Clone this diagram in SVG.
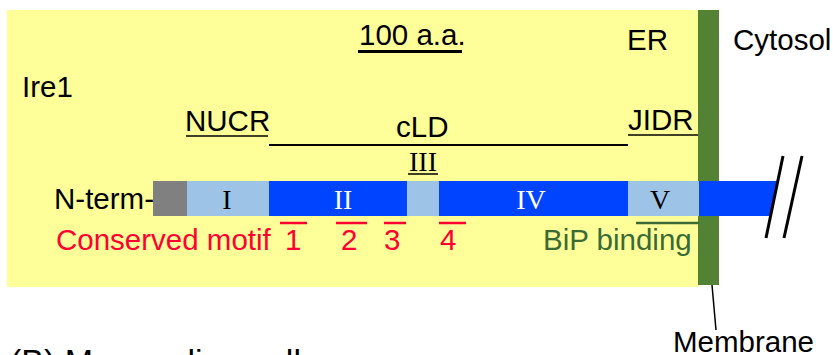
<svg xmlns="http://www.w3.org/2000/svg" width="833" height="355" viewBox="0 0 833 355">
<style>
  .t { font-family: "Liberation Sans", Arial, sans-serif; font-size: 29.5px; fill: #000; }
  .r { font-family: "Liberation Serif", "Times New Roman", serif; font-size: 28px; text-anchor: middle; }
  .red { fill: #FF0033; }
  .grn { fill: #3B6B35; }
  .lb { fill: #9DC3E6; }
  .db { fill: #0044FF; }
</style>
<rect width="833" height="355" fill="#FFFFFF"/>
<g id="er-lumen">
  <rect x="7" y="10" width="692" height="277" fill="#FFFF99"/>
</g>
<g id="membrane">
  <rect x="698" y="10" width="21" height="275" fill="#548235"/>
</g>
<g id="connectors">
  <line x1="712" y1="285" x2="716" y2="330" stroke="#000" stroke-width="1.5"/>
  <line x1="358" y1="51.5" x2="462" y2="51.5" stroke="#000" stroke-width="3"/>
  <line x1="186" y1="136" x2="268" y2="136" stroke="#000" stroke-width="1.5"/>
  <line x1="269" y1="145" x2="628" y2="145" stroke="#000" stroke-width="2"/>
  <line x1="628" y1="135" x2="698" y2="135" stroke="#000" stroke-width="1.5"/>
  <line x1="408" y1="174" x2="438" y2="174" stroke="#000" stroke-width="1.5"/>
  <g stroke="#FF0033" stroke-width="2.5">
    <line x1="280" y1="223" x2="307" y2="223"/>
    <line x1="336" y1="223" x2="367" y2="223"/>
    <line x1="384" y1="223" x2="406" y2="223"/>
    <line x1="439" y1="223" x2="466" y2="223"/>
  </g>
  <line x1="636" y1="223" x2="699" y2="223" stroke="#3B6B35" stroke-width="2.5"/>
</g>
<g id="ire1-bar">
  <rect x="153" y="181" width="34" height="35" fill="#808080"/>
  <rect class="lb" x="187" y="181" width="82" height="35"/>
  <rect class="db" x="269" y="181" width="138" height="35"/>
  <rect class="lb" x="407" y="181" width="32" height="35"/>
  <rect class="db" x="439" y="181" width="189" height="35"/>
  <rect class="lb" x="628" y="181" width="71" height="35"/>
  <polygon class="db" points="699,181 777,181 770,216 699,216"/>
  <text class="r" x="227" y="209">I</text>
  <text class="r" x="343" y="209" fill="#FFFFFF">II</text>
  <text class="r" x="531" y="209" fill="#FFFFFF">IV</text>
  <text class="r" x="660" y="209">V</text>
  <text class="r" x="423" y="171">III</text>
</g>
<g id="break-mark" stroke="#000" stroke-width="3">
  <line x1="783" y1="156" x2="766" y2="238"/>
  <line x1="802" y1="156" x2="784" y2="238"/>
</g>
<g id="labels">
  <text class="t" x="359" y="45">100 a.a.</text>
  <text class="t" x="627" y="50">ER</text>
  <text class="t" x="733" y="50">Cytosol</text>
  <text class="t" x="22" y="97">Ire1</text>
  <text class="t" x="185" y="131">NUCR</text>
  <text class="t" x="396" y="137">cLD</text>
  <text class="t" x="628" y="130">JIDR</text>
  <text class="t" x="54" y="209">N-term-</text>
  <text class="t red" x="56" y="250">Conserved motif</text>
  <text class="t red" x="285" y="250">1</text>
  <text class="t red" x="341" y="250">2</text>
  <text class="t red" x="384" y="250">3</text>
  <text class="t red" x="440" y="250">4</text>
  <text class="t grn" x="543" y="250">BiP binding</text>
  <text class="t" x="673" y="352">Membrane</text>
  <text class="t" x="10" y="373" style="font-size:34px">(B) Mammalian cell</text>
</g>
</svg>
